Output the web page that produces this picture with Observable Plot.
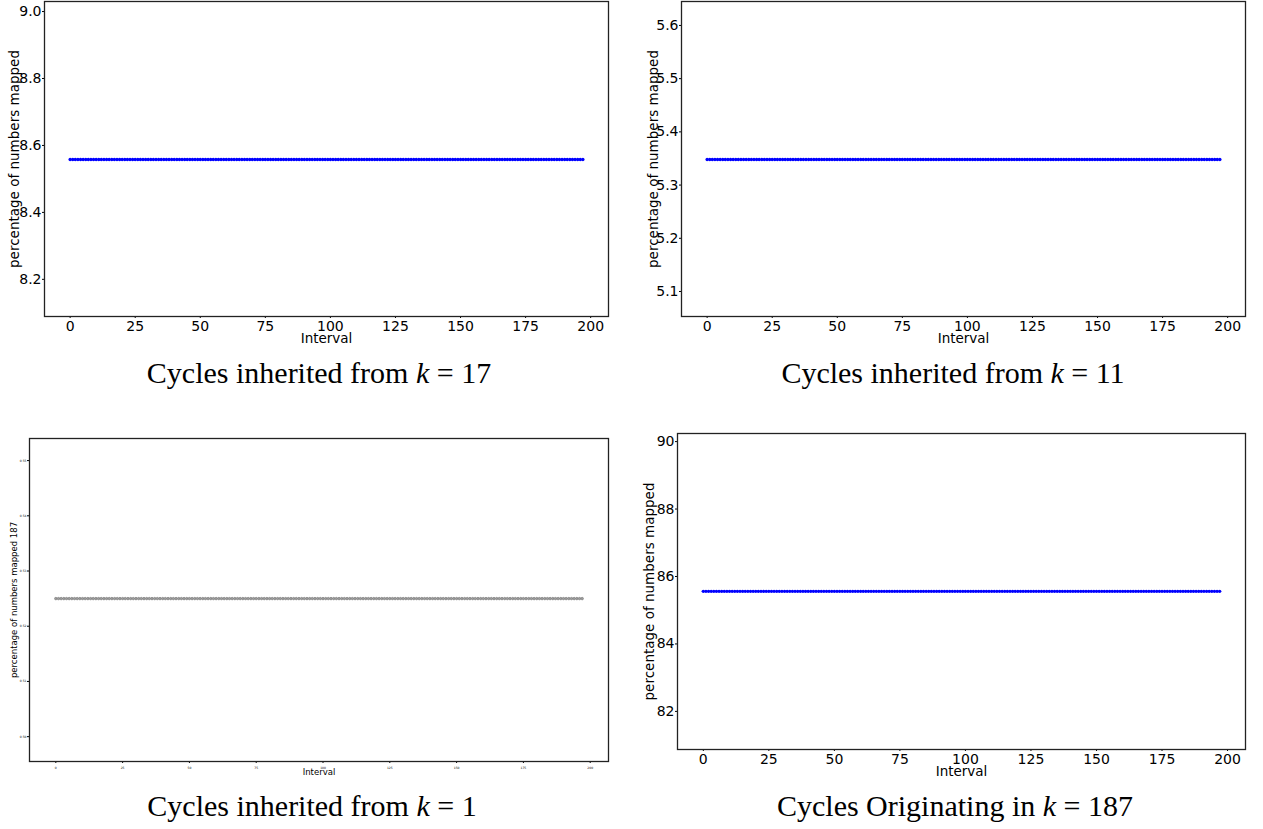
<!DOCTYPE html>
<html>
<head>
<meta charset="utf-8">
<script src="https://cdn.jsdelivr.net/npm/d3@7"></script>
<script src="https://cdn.jsdelivr.net/npm/@observablehq/plot@0.6"></script>
<style>
  html, body { margin: 0; padding: 0; background: #fff; }
  #wrap { position: relative; width: 1263px; height: 829px; overflow: hidden; background: #fff; }
  .panel { position: absolute; }
  .cap { position: absolute; width: 640px; text-align: center; font-family: "Liberation Serif", "DejaVu Serif", serif; font-size: 30px; line-height: 30px; color: #000; white-space: nowrap; }
  .cap i { font-style: italic; }
</style>
</head>
<body>
<div id="wrap"></div>
<script>
// ---- data ----
const intervals = [0,1,2,3,4,5,6,7,8,9,10,11,12,13,14,15,16,17,18,19,20,21,22,23,24,25,26,27,28,29,30,31,32,33,34,35,36,37,38,39,40,41,42,43,44,45,46,47,48,49,50,51,52,53,54,55,56,57,58,59,60,61,62,63,64,65,66,67,68,69,70,71,72,73,74,75,76,77,78,79,80,81,82,83,84,85,86,87,88,89,90,91,92,93,94,95,96,97,98,99,100,101,102,103,104,105,106,107,108,109,110,111,112,113,114,115,116,117,118,119,120,121,122,123,124,125,126,127,128,129,130,131,132,133,134,135,136,137,138,139,140,141,142,143,144,145,146,147,148,149,150,151,152,153,154,155,156,157,158,159,160,161,162,163,164,165,166,167,168,169,170,171,172,173,174,175,176,177,178,179,180,181,182,183,184,185,186,187,188,189,190,191,192,193,194,195,196,197];
const pctFrom17 = 8.558;   // constant across all intervals
const pctFrom11 = 5.348;
const pctFrom1 = 0.525;
const pctOrig187 = 85.56;
const xTicks = [0, 25, 50, 75, 100, 125, 150, 175, 200];
const yTicks17 = [8.2, 8.4, 8.6, 8.8, 9.0];
const yTicks11 = [5.1, 5.2, 5.3, 5.4, 5.5, 5.6];
const yTicks1 = [0.50, 0.51, 0.52, 0.53, 0.54, 0.55];
const yTicks187 = [82, 84, 86, 88, 90];
const captions = ["Cycles inherited from ", "Cycles inherited from ", "Cycles inherited from ", "Cycles Originating in "];
const captionK = ["17", "11", "1", "187"];

const wrap = document.getElementById("wrap");

function panel(o) {
  const rows = intervals.map(i => ({interval: i, pct: o.value}));
  const tfs = o.tickFont;
  const chart = Plot.plot({
    width: o.width, height: o.height,
    marginLeft: o.ml, marginRight: o.mr, marginTop: o.mt, marginBottom: o.mb,
    style: {fontFamily: "DejaVu Sans", fontSize: tfs + "px", background: "transparent", overflow: "visible", color: "#000"},
    x: {domain: [-9.85, 206.85], ticks: xTicks, label: null},
    y: {domain: o.yDomain, ticks: o.yTicks, label: null, tickFormat: o.yFormat},
    marks: [
      Plot.axisX({ticks: xTicks, tickSize: 2, tickPadding: 3, fontSize: tfs, label: null, stroke: "#000"}),
      Plot.axisY({ticks: o.yTicks, tickSize: 2, tickPadding: 1, fontSize: tfs, label: null, tickFormat: o.yFormat, stroke: "#000"}),
      Plot.frame({stroke: "#222", strokeWidth: 1.3}),
      Plot.dot(rows, {x: "interval", y: "pct", r: o.r, fill: o.fill, stroke: o.stroke, strokeWidth: o.stroke === "none" ? 0 : 0.4}),
      Plot.text([o.yLabel], {frameAnchor: "left", textAnchor: "middle", lineAnchor: "middle", dx: o.ylabDx, rotate: -90, fontSize: o.labFont, fill: "#000"}),
      Plot.text(["Interval"], {frameAnchor: "bottom", lineAnchor: "middle", dy: o.xlabDy, fontSize: o.labFont, fill: "#000"})
    ]
  });
  chart.classList.add("panel");
  chart.style.left = o.left + "px";
  chart.style.top = o.top + "px";
  wrap.appendChild(chart);
}

panel({left: 0, top: 0, width: 630, height: 345, ml: 44, mr: 22, mt: 1, mb: 29,
  value: pctFrom17, yDomain: [8.089, 9.03], yTicks: yTicks17, yFormat: d3.format(".1f"),
  yLabel: "percentage of numbers mapped", fill: "#0000ff", stroke: "none", r: 1.7,
  tickFont: 14, labFont: 13.5, ylabDx: -30, xlabDy: 22});

panel({left: 640, top: 0, width: 623, height: 345, ml: 41, mr: 18, mt: 1, mb: 29,
  value: pctFrom11, yDomain: [5.053, 5.645], yTicks: yTicks11, yFormat: d3.format(".1f"),
  yLabel: "percentage of numbers mapped", fill: "#0000ff", stroke: "none", r: 1.7,
  tickFont: 14, labFont: 13.5, ylabDx: -28, xlabDy: 22});

panel({left: 0, top: 432, width: 630, height: 345, ml: 29, mr: 22, mt: 6, mb: 16,
  value: pctFrom1, yDomain: [0.4955, 0.554], yTicks: yTicks1, yFormat: d3.format(".2f"),
  yLabel: "percentage of numbers mapped 187", fill: "#a0a0a0", stroke: "#555", r: 1.3,
  tickFont: 3, labFont: 8.5, ylabDx: -15, xlabDy: 11});

panel({left: 640, top: 432, width: 623, height: 345, ml: 37, mr: 18, mt: 1, mb: 28,
  value: pctOrig187, yDomain: [80.87, 90.24], yTicks: yTicks187, yFormat: d3.format("d"),
  yLabel: "percentage of numbers mapped", fill: "#0000ff", stroke: "none", r: 1.7,
  tickFont: 14, labFont: 13.5, ylabDx: -28, xlabDy: 22});

// captions (LaTeX-style subfigure captions)
const capPos = [
  {cx: 319, top: 358}, {cx: 953, top: 358},
  {cx: 312, top: 791}, {cx: 955, top: 791}
];
captions.forEach((c, i) => {
  const d = document.createElement("div");
  d.className = "cap";
  d.style.left = (capPos[i].cx - 320) + "px";
  d.style.top = capPos[i].top + "px";
  d.innerHTML = c + "<i>k</i> = " + captionK[i];
  wrap.appendChild(d);
});
</script>
</body>
</html>
